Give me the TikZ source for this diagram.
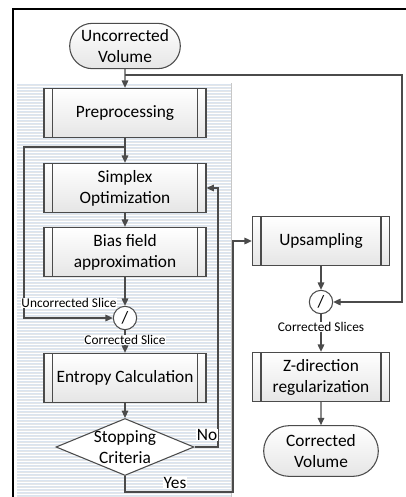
\documentclass[tikz,border=0pt]{standalone}
\usepackage{fontspec}
\setmainfont{Carlito}
\usetikzlibrary{arrows.meta,shapes.misc,shapes.geometric}

\def\lw{121.5pt}
\def\rw{103pt}
\def\boxh{37pt}
\definecolor{stripe}{RGB}{218,228,240}
\definecolor{stripeg}{RGB}{228,230,232}
\definecolor{edge}{RGB}{75,75,75}

\begin{document}
\begin{tikzpicture}[x=0.75pt, y=-0.75pt,
  nodes = {font=\fontsize{13}{15.75}\selectfont, align=center},
  proc/.style = {draw=edge, line width=0.8pt, top color=white, bottom color=black!10,
    minimum width=#1, minimum height=\boxh, inner sep=0pt,
    path picture={
      \draw[edge, line width=0.8pt]
        ([xshift=6.5pt]path picture bounding box.north west) --
        ([xshift=6.5pt]path picture bounding box.south west)
        ([xshift=-6.5pt]path picture bounding box.north east) --
        ([xshift=-6.5pt]path picture bounding box.south east);}},
  proc/.default = \lw,
  term/.style = {rounded rectangle, draw=edge, line width=0.8pt, top color=white,
    bottom color=black!10, inner sep=0pt},
  divide/.style = {circle, draw=edge, line width=0.8pt, fill=white,
    minimum size=17.5pt, inner sep=0pt},
  lbl/.style = {font=\fontsize{10}{12}\selectfont, fill=white, inner sep=0.6pt},
  flow/.style = {draw=edge, line width=0.8pt, -{Triangle[length=5.5pt,width=5pt]}},
  line/.style = {draw=edge, line width=0.8pt}]
\useasboundingbox (0,0) rectangle (406,497);

% frame and striped background
\draw[line width=1.6pt] (406,9) -- (13,9) -- (13,497);
\foreach \y in {84,87,...,497}{
  \draw[stripe, line width=0.75pt] (17,\y) -- (231,\y);
  \draw[stripeg, line width=0.6pt] (17,\y+1.1) -- (231,\y+1.1);}
\draw[black!22, line width=1.2pt] (231.5,83) -- (231.5,497);

% left column
\node[term, minimum width=83pt, minimum height=34pt] (uvol) at (125,46) {Uncorrected\\Volume};
\node[proc] (prep) at (125,113) {Preprocessing};
\node[proc] (simplex) at (125,188) {Simplex\\Optimization};
\node[proc] (bias) at (125,252) {Bias field\\approximation};
\node[divide] (div1) at (125,318) {/};
\node[proc] (entropy) at (125,378) {Entropy Calculation};
\node[diamond, draw=edge, line width=0.8pt, fill=white, inner sep=0pt,
  minimum width=103.5pt, minimum height=42.75pt] (stop) at (125,447) {};
\node (stoptxt) at (stop) {Stopping\\Criteria};

% right column
\node[proc=\rw] (upsamp) at (321,241) {Upsampling};
\node[divide] (div2) at (321,302) {/};
\node[proc=\rw] (zreg) at (321,377) {Z-direction\\regularization};
\node[term, minimum width=86pt, minimum height=38pt] (cvol) at (321,451) {Corrected\\Volume};

% helper points
\coordinate (j1) at (125,75);
\coordinate (rt) at (402,75);
\coordinate (j2) at (125,147);
\coordinate (lt) at (24,147);
\coordinate (nob) at (218,447);
\coordinate (yb) at (233,492);

% connectors
\draw[flow] (uvol) -- (prep);
\draw[flow] (j1) -- (rt) |- (div2);
\draw[flow] (prep) -- (simplex);
\draw[flow] (j2) -- (lt) |- (div1);
\draw[flow] (simplex) -- (bias);
\draw[flow] (bias) -- (div1);
\draw[flow] (div1) -- (entropy);
\draw[flow] (entropy) -- (stop);
\draw[flow] (stop.east) -- (nob) |- (simplex.east);
\draw[flow] (stop.south) |- (yb) |- (upsamp.west);
\draw[flow] (upsamp) -- (div2);
\draw[flow] (div2) -- (zreg);
\draw[flow] (zreg) -- (cvol);

% labels
\node[lbl] (uslice) at (69,303) {Uncorrected Slice};
\node[lbl] (cslice) at (125,340) {Corrected Slice};
\node[lbl] (cslices) at (321,327) {Corrected Slices};
\node[lbl, font=\fontsize{13}{15}\selectfont] (no) at (207,435) {No};
\node[lbl, font=\fontsize{13}{15}\selectfont] (yes) at (175,483) {Yes};
\end{tikzpicture}
\end{document}
